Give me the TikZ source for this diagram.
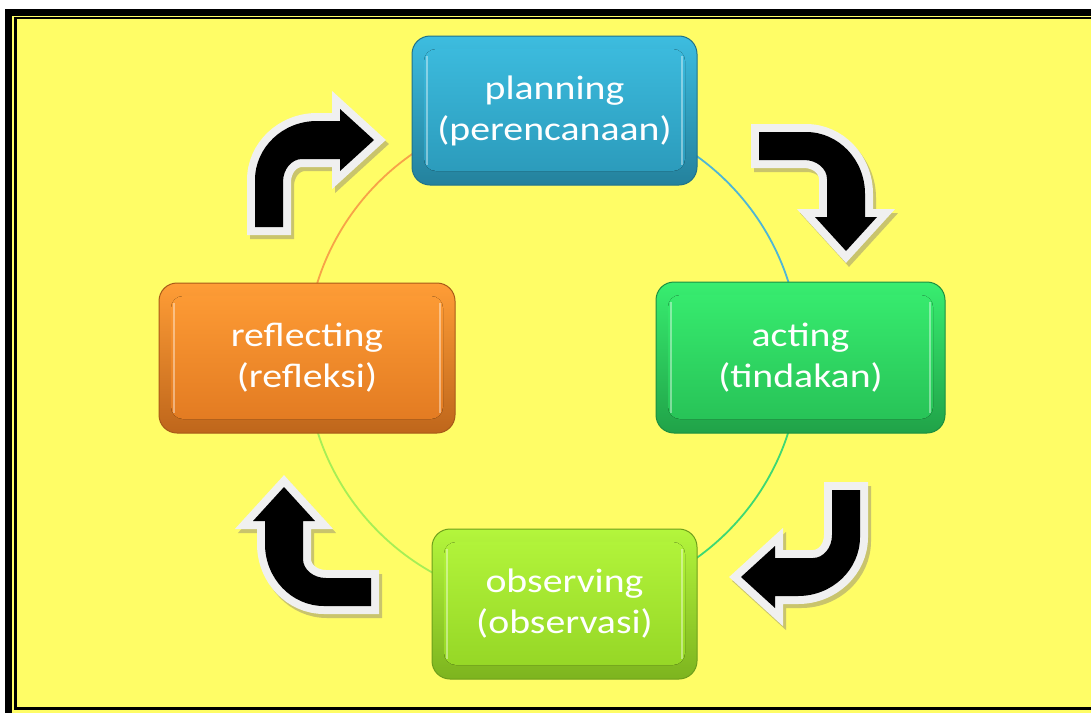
\documentclass[tikz,border=0pt]{standalone}
\usepackage{fontspec}
\setmainfont{Carlito}
\usetikzlibrary{backgrounds}
\definecolor{bgyellow}{HTML}{FFFD66}
\definecolor{arrowshadow}{HTML}{C9C46C}
\definecolor{arrowrim}{HTML}{F0F0F0}
\definecolor{planL}{HTML}{3DBDE0}\definecolor{planD}{HTML}{2A98B8}
\definecolor{actL}{HTML}{38EE70}\definecolor{actD}{HTML}{26BF55}
\definecolor{refL}{HTML}{FF9D36}\definecolor{refD}{HTML}{E07820}
\definecolor{obsL}{HTML}{B4F63C}\definecolor{obsD}{HTML}{93D424}
\definecolor{arcBlue}{HTML}{4FB6D6}
\definecolor{arcGreen}{HTML}{3ED873}
\definecolor{arcLime}{HTML}{A6EE55}
\definecolor{arcOrange}{HTML}{F7A348}
\newcommand\wideline[1]{\scalebox{1.17}[1]{#1}}
\newcommand\arrowshape[1]{\path[#1] (14,-87) -- (14,-42) arc[start angle=180,end angle=90,x radius=19,y radius=23] -- (71,-19) -- (71,-31) -- (105,0) -- (71,31) -- (71,19) -- (48,19) arc[start angle=90,end angle=180,x radius=62,y radius=59] -- (-14,-87) -- cycle;}
\newcommand\bentarrow[3]{%
  \begin{scope}[shift={(#1+3,#2-4)}, rotate=#3]
    \arrowshape{fill=arrowshadow, draw=arrowshadow, line width=16pt, line join=miter}
  \end{scope}
  \begin{scope}[shift={(#1,#2)}, rotate=#3]
    \arrowshape{draw=arrowrim, line width=16pt, line join=miter}
    \arrowshape{fill=black}
  \end{scope}}
\tikzset{
  cyclebox/.style 2 args={rounded corners=18pt, draw=#2!75!black, line width=1pt,
    top color=#1, bottom color=#2!85!black, text=white, align=center,
    font=\fontsize{34}{41}\selectfont, inner sep=0pt,
    path picture={
      \fill[rounded corners=12pt, top color=#1, bottom color=#2]
        ([shift={(12pt,14pt)}]path picture bounding box.south west) rectangle
        ([shift={(-12pt,-13pt)}]path picture bounding box.north east);
      \draw[white, opacity=0.4, line width=2pt]
        ([shift={(15pt,20pt)}]path picture bounding box.south west) --
        ([shift={(15pt,-20pt)}]path picture bounding box.north west);
      \draw[white, opacity=0.4, line width=2pt]
        ([shift={(-15pt,20pt)}]path picture bounding box.south east) --
        ([shift={(-15pt,-20pt)}]path picture bounding box.north east);
    }},
  boxshadow/.style={fill=black, opacity=0.22, rounded corners=18pt}
}
\begin{document}
\begin{tikzpicture}[x=1pt,y=1pt]
\useasboundingbox (0,0) rectangle (1091,-712);
\clip (0,0) rectangle (1091,-712);
% frame
\fill[white] (0,0) rectangle (1091,-712);
\fill[bgyellow] (5,-9) rectangle (1120,-740);
\draw[black, line width=7pt] (8.5,-12) rectangle (1120,-716);
\draw[black, line width=2.5pt] (15.4,-18) rectangle (1110,-708.7);
% circle arcs
\draw[arcBlue, line width=1.8pt] (553,-110) arc[start angle=90,end angle=0,radius=247];
\draw[arcGreen, line width=1.8pt] (800,-357) arc[start angle=0,end angle=-90,radius=247];
\draw[arcLime, line width=1.8pt] (553,-604) arc[start angle=-90,end angle=-180,radius=247];
\draw[arcOrange, line width=1.8pt] (306,-357) arc[start angle=180,end angle=90,radius=247];
% boxes
\node[cyclebox={planL}{planD}, minimum width=285pt, minimum height=149pt] (plan) at (554.5,-110.5) {\wideline{planning}\\\wideline{(perencanaan)}};
\node[cyclebox={actL}{actD}, minimum width=289pt, minimum height=151pt] (act) at (800.5,-357.5) {\wideline{acting}\\\wideline{(tindakan)}};
\node[cyclebox={obsL}{obsD}, minimum width=265pt, minimum height=150pt] (obs) at (564.5,-604) {\wideline{observing}\\\wideline{(observasi)}};
\node[cyclebox={refL}{refD}, minimum width=296pt, minimum height=150pt] (ref) at (307,-358) {\wideline{reflecting}\\\wideline{(refleksi)}};
\begin{pgfonlayer}{background}
  \foreach \n in {plan,act,obs,ref}{
    \fill[boxshadow] ([shift={(1pt,-4pt)}]\n.south west) rectangle ([shift={(1pt,-4pt)}]\n.north east);
  }
\end{pgfonlayer}
% bent arrows
\bentarrow{269}{-140}{0}
\bentarrow{846}{-146}{-90}
\bentarrow{846}{-577}{180}
\bentarrow{284}{-592}{90}
\end{tikzpicture}
\end{document}
